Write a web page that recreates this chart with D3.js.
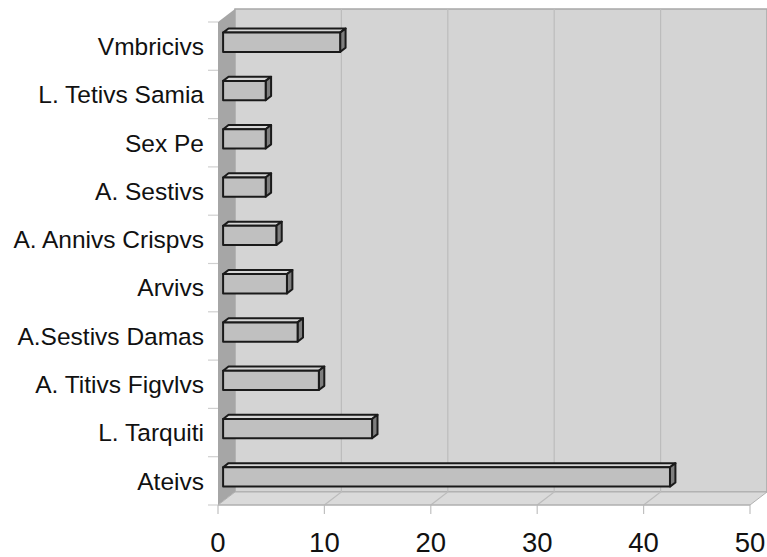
<!DOCTYPE html>
<html><head><meta charset="utf-8">
<script src="https://cdn.jsdelivr.net/npm/d3@7/dist/d3.min.js"></script>
<style>body{margin:0;background:#fff}svg{display:block}</style>
</head><body><svg id="c" width="767" height="557"></svg>
<script>
const categories = ["Vmbricivs","L. Tetivs Samia","Sex Pe","A. Sestivs","A. Annivs Crispvs","Arvivs","A.Sestivs Damas","A. Titivs Figvlvs","L. Tarquiti","Ateivs"];
const values = [11, 4, 4, 4, 5, 6, 7, 9, 14, 42];
const xTicks = [0, 10, 20, 30, 40, 50];

const svg = d3.select("#c");
const DX = 17, DY = -13;
const x = d3.scaleLinear().domain([0, 50]).range([218, 750]);
const y = d3.scaleBand().domain(categories).range([22, 505]).padding(0);
const P = (v, yy, z) => [x(v) + z * DX, yy + z * DY];
const y0 = y.range()[0], y1 = y.range()[1];
const line = d3.line();

// walls
svg.append("path").attr("d", line([P(0,y1,1),P(50,y1,1),P(50,y0,1),P(0,y0,1)]) + "Z")
  .attr("fill", "#d4d4d4").attr("stroke", "#a8a8a8").attr("stroke-width", 1.5);
svg.append("path").attr("d", line([P(0,y0,0),P(0,y1,0),P(0,y1,1),P(0,y0,1)]) + "Z")
  .attr("fill", "#a6a6a6");
svg.append("path").attr("d", line([P(0,y1,0),P(50,y1,0),P(50,y1,1),P(0,y1,1)]) + "Z")
  .attr("fill", "#dadada").attr("stroke", "#b0b0b0").attr("stroke-width", 1);

// grid lines on back wall + floor
xTicks.slice(1, -1).forEach(t => {
  svg.append("path").attr("d", line([P(t,y1,0),P(t,y1,1),P(t,y0,1)]))
    .attr("fill", "none").attr("stroke", "#bcbcbc").attr("stroke-width", 1.2);
});

// category axis ticks (boundaries)
const bounds = categories.map(c => y(c)).concat([y1]);
svg.append("g").selectAll("line").data(bounds).join("line")
  .attr("x1", x(0) - 10).attr("x2", x(0)).attr("y1", d => d).attr("y2", d => d)
  .attr("stroke", "#d0d0d0").attr("stroke-width", 1.2);

// value axis ticks
svg.append("g").selectAll("line").data(xTicks).join("line")
  .attr("x1", d => x(d)).attr("x2", d => x(d)).attr("y1", y1).attr("y2", y1 + 9)
  .attr("stroke", "#c0c0c0").attr("stroke-width", 1.2);
svg.append("line").attr("x1", x(0)).attr("x2", x(50)).attr("y1", y1).attr("y2", y1)
  .attr("stroke", "#b0b0b0").attr("stroke-width", 1.2);

// bars
const z0 = 0.3, z1 = 0.62;
const bh = y.bandwidth() * 0.4;
const g = svg.append("g");
categories.forEach((c, i) => {
  const v = values[i];
  const top = y(c) + (y.bandwidth() - bh) / 2, bot = top + bh;
  g.append("path").attr("d", line([P(0,top,z0),P(v,top,z0),P(v,top,z1),P(0,top,z1)]) + "Z")
    .attr("fill", "#d6d6d6").attr("stroke", "#1a1a1a").attr("stroke-width", 2).attr("stroke-linejoin", "round");
  g.append("path").attr("d", line([P(v,top,z0),P(v,bot,z0),P(v,bot,z1),P(v,top,z1)]) + "Z")
    .attr("fill", "#7e7e7e").attr("stroke", "#1a1a1a").attr("stroke-width", 2).attr("stroke-linejoin", "round");
  g.append("path").attr("d", line([P(0,top,z0),P(v,top,z0),P(v,bot,z0),P(0,bot,z0)]) + "Z")
    .attr("fill", "#c0c0c0").attr("stroke", "#1a1a1a").attr("stroke-width", 2).attr("stroke-linejoin", "round");
});

// labels
svg.append("g").selectAll("text").data(categories).join("text")
  .attr("x", 204).attr("y", d => y(d) + y.bandwidth() / 2).attr("dy", "0.36em")
  .attr("text-anchor", "end").attr("font-family", "Liberation Sans, Arial, sans-serif")
  .attr("font-size", 24.5).attr("fill", "#111").text(d => d);

svg.append("g").selectAll("text").data(xTicks).join("text")
  .attr("x", d => x(d)).attr("y", 552).attr("text-anchor", "middle")
  .attr("font-family", "Liberation Sans, Arial, sans-serif")
  .attr("font-size", 27.5).attr("fill", "#111").text(d => d);
</script></body></html>
